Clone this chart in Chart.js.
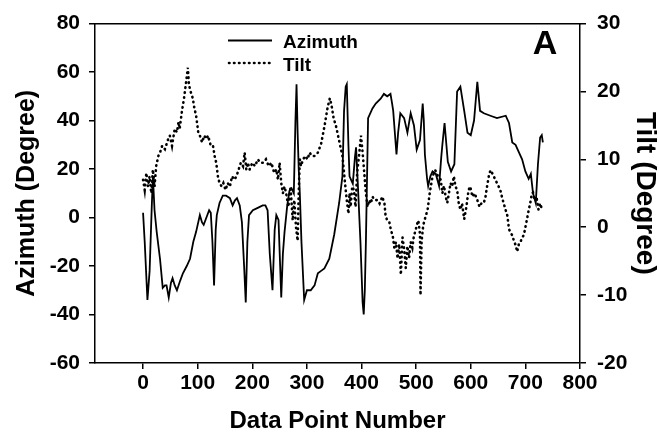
<!DOCTYPE html>
<html>
<head>
<meta charset="utf-8">
<script src="https://cdn.jsdelivr.net/npm/chart.js@4.4.1/dist/chart.umd.min.js"></script>
<style>
  html, body { margin: 0; padding: 0; background: #fff; }
  #wrap { width: 659px; height: 447px; }
</style>
</head>
<body>
<div id="wrap"><canvas id="chart" width="659" height="447"></canvas></div>
<script>
// values
const azX = [
  0, 3, 8, 12, 16, 18, 21, 25, 31, 36,
  40, 43, 47, 51, 54, 58, 62, 68, 73, 80,
  86, 92, 97, 104, 108, 111, 116, 121, 124, 127,
  130, 133, 135, 140, 146, 152, 159, 164, 168, 172,
  177, 181, 185, 188, 191, 194, 201, 210, 219, 224,
  228, 232, 237, 241, 244, 248, 251, 253, 256, 259,
  264, 268, 272, 276, 279, 281, 283, 285, 287, 290,
  295, 300, 307, 314, 320, 326, 332, 341, 350, 359,
  365, 368, 371, 373, 376, 378, 384, 388, 390, 393,
  398, 402, 404, 406, 408, 412, 420, 426, 435, 441,
  447, 453, 456, 458, 461, 464, 467, 471, 478, 484,
  490, 496, 501, 507, 512, 514, 516, 520, 522, 526,
  530, 536, 542, 546, 548, 552, 558, 564, 570, 573,
  575, 581, 588, 594, 600, 606, 612, 617, 624, 636,
  648, 664, 670, 676, 682, 688, 694, 700, 706, 710,
  714, 719, 723, 727, 730, 732
];
const azY = [
  2, -10, -34, -22, 5, 17, 3, -6, -17, -29,
  -28, -28, -33, -27, -25, -28, -30, -26, -23, -20,
  -17, -10, -6, 1, -2, -3, 0, 3, 2, -10,
  -28, -5, 1, 6, 9, 9, 8, 5, 7, 8,
  5, -2, -20, -35, -10, 1, 3, 4, 5, 5,
  3, -15, -30, -5, 1, -1, -20, -33, -15, -6,
  5, 11, 12, 10, 40, 55, 35, 20, 10, -10,
  -34, -30, -30, -28, -23, -22, -21, -17, -7, 6,
  17, 44, 54, 55, 30, 17, 14, 25, 29, 15,
  -10, -35, -40, -30, -10, 41, 45, 47, 49, 51,
  50, 51, 47, 44, 35, 26, 35, 43, 41, 35,
  43, 38, 28, 32, 47, 40, 26, 16, 13, 17,
  19, 18, 13, 25, 30, 39, 23, 19, 22, 40,
  52, 54, 44, 35, 34, 40, 56, 44, 43, 42,
  41, 42, 39, 31, 30, 27, 24, 19, 16, 18,
  10, 6, 22, 33, 34, 31
];
const tiltX = [
  0, 3, 6, 9, 12, 15, 18, 21, 24, 28,
  31, 35, 40, 46, 49, 53, 58, 62, 65, 67,
  71, 75, 79, 82, 84, 87, 91, 94, 97, 101,
  104, 108, 112, 116, 119, 124, 128, 131, 134, 137,
  140, 144, 147, 151, 155, 159, 163, 167, 171, 175,
  179, 183, 186, 189, 192, 195, 200, 205, 210, 215,
  220, 225, 230, 235, 240, 244, 247, 250, 253, 256,
  259, 262, 266, 270, 274, 277, 280, 283, 285, 287,
  289, 293, 297, 301, 305, 309, 314, 320, 326, 332,
  338, 342, 345, 349, 353, 357, 361, 365, 368, 371,
  373, 376, 378, 380, 383, 386, 389, 392, 396, 399,
  402, 405, 408, 411, 414, 417, 420, 424, 429, 433,
  438, 442, 444, 447, 451, 454, 457, 460, 463, 466,
  469, 472, 475, 478, 481, 484, 487, 490, 493, 496,
  499, 501, 504, 507, 508, 510, 513, 517, 521, 525,
  530, 535, 540, 545, 548, 551, 554, 557, 560, 563,
  566, 569, 572, 575, 578, 581, 584, 588, 592, 596,
  599, 603, 607, 612, 616, 620, 624, 627, 630, 633,
  636, 639, 642, 645, 648, 651, 654, 657, 660, 664,
  667, 670, 673, 676, 679, 682, 685, 688, 691, 694,
  697, 700, 703, 706, 709, 712, 714, 717, 721, 724,
  727, 731
];
const tiltY = [
  7, 5.5, 8, 6, 7.5, 5, 8.5, 6, 9, 10.5,
  11, 12, 11.5, 13, 13.5, 12, 14.5, 14, 15.5, 14.5,
  17, 19, 21.5, 23.5, 21, 20, 19, 17.5, 16.5, 14,
  13.5, 12.5, 13.5, 13, 13.5, 12, 12, 10.5, 9.5, 7.5,
  6.5, 6, 6.5, 5.5, 6.5, 6, 7.5, 7, 7.5, 8.5,
  9.5, 9, 11, 8.5, 9.5, 8.5, 9.5, 9, 10, 9.5,
  9.5, 10, 9, 9.5, 8, 8.5, 7, 9.5, 6.5, 5,
  6, 5, 3, 6, 1, 4, 0, -2, 5, 10,
  9, 10, 10.5, 10, 11, 10.5, 10.5, 11, 12.3, 14.8,
  17.7, 19, 18, 16, 15, 13.5, 12, 10.5, 8, 5.5,
  4, 2, 5, 3, 6, 5.5, 3, 8, 11, 13.5,
  11, 8, 5, 3, 4, 3.5, 4.5, 4, 4, 3.5,
  4.5, 3.5, 1.7, 1, 0.7, -0.5, -1.2, -3, -2.2, -4.6,
  -2.5, -7, -1.5, -3.2, -6, -2.8, -4.5, -2.2, -3, -1.2,
  -0.5, 0.3, 1, -1, -10, -2, 0.3, 1.5, 2.6, 5.1,
  7.5, 8.4, 7.5, 7, 5, 6.1, 4.5, 3.6, 5, 6.5,
  6, 7.5, 6, 5.5, 3.5, 2.6, 3.5, 1.2, 3, 5.5,
  6, 4.5, 5, 4, 3, 3.6, 3.6, 4.5, 6.1, 7.5,
  8.4, 8, 7.5, 7, 6.5, 6, 5.5, 4.5, 3.6, 2.5,
  1.7, -0.3, -0.8, -1.2, -2, -2.6, -3.6, -2.5, -2.2, -1.5,
  -1.2, 0, 1.2, 2.5, 3.6, 5, 5.1, 4, 4.1, 2.6,
  3.5, 2.5
];
const xTicks = [0, 100, 200, 300, 400, 500, 600, 700, 800];
const azTicks = [-60, -40, -20, 0, 20, 40, 60, 80];
const tiltTicks = [-20, -10, 0, 10, 20, 30];
const seriesNames = ['Azimuth', 'Tilt'];
const axisTitles = ['Data Point Number', 'Azimuth (Degree)', 'Tilt (Degree)'];
const panelLabel = 'A';

const FONT = '"Liberation Sans", Arial, Helvetica, sans-serif';

function toPoints(xs, ys) {
  return xs.map((x, i) => ({ x: x, y: ys[i] }));
}

function setTicks(values) {
  return scale => { scale.ticks = values.map(v => ({ value: v })); };
}

const gridOpts = {
  display: true,
  drawOnChartArea: false,
  drawTicks: true,
  tickLength: 6,
  color: '#000',
  lineWidth: 1.5
};
const borderOpts = { display: true, color: '#000', width: 1.5 };
const tickFont = { family: FONT, size: 21, weight: 'bold' };

// legend and panel letter inside the plot
const innerLegend = {
  id: 'innerLegend',
  afterDraw(chart) {
    const ctx = chart.ctx;
    ctx.save();
    ctx.strokeStyle = '#000';
    ctx.fillStyle = '#000';
    ctx.lineWidth = 1.8;
    ctx.beginPath();
    ctx.moveTo(228, 40.5);
    ctx.lineTo(272, 40.5);
    ctx.stroke();
    ctx.setLineDash([0.5, 4.5]);
    ctx.lineCap = 'round';
    ctx.lineWidth = 2.6;
    ctx.beginPath();
    ctx.moveTo(229, 63);
    ctx.lineTo(272, 63);
    ctx.stroke();
    ctx.setLineDash([]);
    ctx.font = 'bold 19px ' + FONT;
    ctx.textBaseline = 'alphabetic';
    ctx.textAlign = 'left';
    ctx.fillText(seriesNames[0], 283, 48);
    ctx.fillText(seriesNames[1], 283, 71);
    ctx.font = 'bold 34px ' + FONT;
    ctx.textAlign = 'center';
    ctx.fillText(panelLabel, 545, 53.5);
    ctx.restore();
  }
};

new Chart(document.getElementById('chart'), {
  type: 'line',
  data: {
    datasets: [
      {
        label: seriesNames[0],
        data: toPoints(azX, azY),
        xAxisID: 'x',
        yAxisID: 'y',
        borderColor: '#000',
        borderWidth: 1.8,
        pointRadius: 0,
        tension: 0
      },
      {
        label: seriesNames[1],
        data: toPoints(tiltX, tiltY),
        xAxisID: 'x',
        yAxisID: 'y2',
        borderColor: '#000',
        borderWidth: 2.6,
        borderDash: [0.5, 4.5],
        borderCapStyle: 'round',
        pointRadius: 0,
        tension: 0
      }
    ]
  },
  options: {
    responsive: false,
    animation: false,
    devicePixelRatio: 1,
    layout: { padding: 0 },
    plugins: {
      legend: { display: false },
      tooltip: { enabled: false }
    },
    scales: {
      x: {
        type: 'linear',
        position: 'bottom',
        min: -88,
        max: 800,
        afterBuildTicks: setTicks(xTicks),
        afterFit: s => { s.height = 84; },
        ticks: { font: tickFont, color: '#000', padding: 2, maxRotation: 0, autoSkip: false, callback: v => String(v) },
        grid: gridOpts,
        border: borderOpts,
        title: {
          display: true,
          text: axisTitles[0],
          color: '#000',
          font: { family: FONT, size: 24, weight: 'bold', lineHeight: 1 },
          padding: { top: 0, bottom: 14 }
        }
      },
      xTop: {
        type: 'linear',
        position: 'top',
        min: 0,
        max: 1,
        afterFit: s => { s.height = 18; },
        ticks: { display: false },
        grid: { display: false },
        border: borderOpts
      },
      y: {
        type: 'linear',
        position: 'left',
        min: -60,
        max: 80,
        afterBuildTicks: setTicks(azTicks),
        afterFit: s => { s.width = 95; },
        ticks: { font: tickFont, color: '#000', padding: 9, callback: v => String(v) },
        grid: gridOpts,
        border: borderOpts,
        title: {
          display: true,
          text: axisTitles[1],
          color: '#000',
          font: { family: FONT, size: 25, weight: 'bold', lineHeight: 1 },
          padding: { top: 15, bottom: 0 }
        }
      },
      y2: {
        type: 'linear',
        position: 'right',
        min: -20,
        max: 30,
        afterBuildTicks: setTicks(tiltTicks),
        afterFit: s => { s.width = 79; },
        ticks: { font: tickFont, color: '#000', padding: 11, callback: v => String(v) },
        grid: gridOpts,
        border: borderOpts,
        title: {
          display: true,
          text: axisTitles[2],
          color: '#000',
          font: { family: FONT, size: 28, weight: 'bold', lineHeight: 1 },
          padding: { top: 0, bottom: 0 }
        }
      }
    }
  },
  plugins: [innerLegend]
});
</script>
</body>
</html>
